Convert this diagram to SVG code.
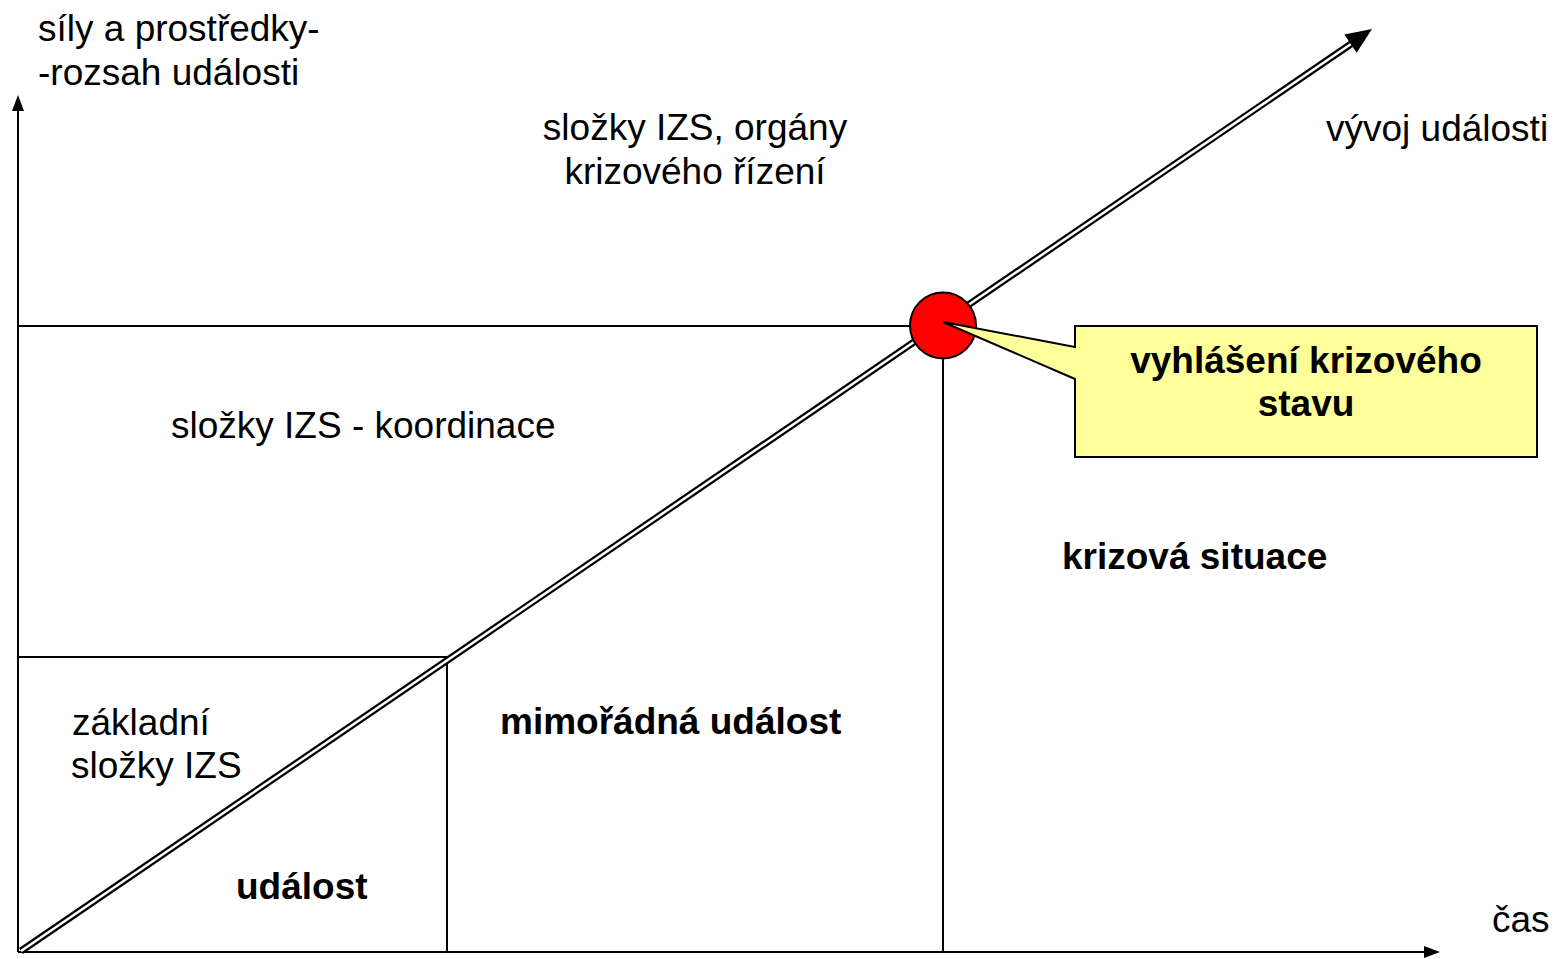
<svg xmlns="http://www.w3.org/2000/svg" width="1558" height="959" viewBox="0 0 1558 959">
<style>
.t{font-family:"Liberation Sans",Arial,sans-serif;font-size:37px;fill:#000}
.b{font-weight:bold}
.ln{stroke:#000;stroke-width:2;fill:none}
</style>
<rect width="1558" height="959" fill="#fff"/>
<g id="connectors">
<line class="ln" x1="18" y1="952" x2="18" y2="108"/>
<polygon points="18,95 12,111 24,111" fill="#000"/>
<line class="ln" x1="18" y1="952" x2="1426" y2="952"/>
<polygon points="1440,952 1424,946 1424,958" fill="#000"/>
<line class="ln" x1="18" y1="326" x2="943" y2="326"/>
<line class="ln" x1="18" y1="657" x2="447" y2="657"/>
<line class="ln" x1="447" y1="657" x2="447" y2="952"/>
<line class="ln" x1="943" y1="326" x2="943" y2="952"/>
<g id="diagonal">
<line x1="21" y1="951" x2="1351" y2="44" stroke="#000" stroke-width="7"/>
<line x1="21" y1="951" x2="1351" y2="44" stroke="#fff" stroke-width="2.5"/>
<polygon points="1372,29 1356.7,52.8 1344.3,34.6" fill="#000"/>
</g>
</g>
<g id="point">
<circle cx="943" cy="325.5" r="33" fill="#f00" stroke="#000" stroke-width="2"/>
</g>
<g id="callout">
<path d="M1075,326 H1537 V457 H1075 V379 L943,322 L1075,347 Z" fill="#ffff99" stroke="#000" stroke-width="2"/>
<text class="t b" x="1306" y="373" text-anchor="middle">vyhlášení krizového</text>
<text class="t b" x="1306" y="416" text-anchor="middle">stavu</text>
</g>
<g id="labels">
<text class="t" x="38" y="41">síly a prostředky-</text>
<text class="t" x="38" y="85">-rozsah události</text>
<text class="t" x="695" y="140" text-anchor="middle">složky IZS, orgány</text>
<text class="t" x="695" y="184" text-anchor="middle">krizového řízení</text>
<text class="t" x="1326" y="141">vývoj události</text>
<text class="t" x="171" y="438">složky IZS - koordinace</text>
<text class="t b" x="1062" y="569">krizová situace</text>
<text class="t" x="72" y="735">základní</text>
<text class="t" x="71" y="778">složky IZS</text>
<text class="t b" x="500" y="734">mimořádná událost</text>
<text class="t b" x="236" y="899">událost</text>
<text class="t" x="1492" y="932">čas</text>
</g>
</svg>
